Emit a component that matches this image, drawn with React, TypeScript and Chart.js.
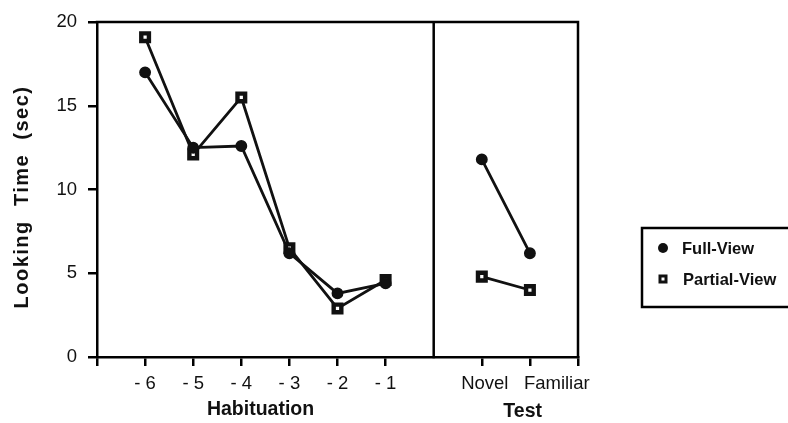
import { useEffect, useRef } from 'react';
import { Chart, registerables } from 'chart.js';
Chart.register(...registerables);

const habituationTrials = [-6, -5, -4, -3, -2, -1];
const habituationLabels = ['- 6', '- 5', '- 4', '- 3', '- 2', '- 1'];
const testPhases = ['Novel', 'Familiar'];
const testPositions = [1, 2];
const fullViewHabituation = [17.0, 12.5, 12.6, 6.2, 3.8, 4.4];
const partialViewHabituation = [19.1, 12.1, 15.5, 6.5, 2.9, 4.6];
const fullViewTest = [11.8, 6.2];
const partialViewTest = [4.8, 4.0];
const seriesNames = ['Full-View', 'Partial-View'];
const yTicks = [0, 5, 10, 15, 20];
const xTickValues = [-7, ...habituationTrials, ...testPositions, 3];
const axisTitles = ['Habituation', 'Test'];
const yTitle = 'Looking  Time  (sec)';

const FONT = '"Liberation Sans", Arial, Helvetica, sans-serif';
const INK = '#111';

function buildSeries(hab: number[], test: number[]) {
  return [
    ...habituationTrials.map((t, i) => ({ x: t, y: hab[i] })),
    { x: 0, y: null },
    ...testPositions.map((t, i) => ({ x: t, y: test[i] })),
  ];
}

const framePlugin = {
  id: 'frame',
  afterDraw(chart: any) {
    const { ctx, chartArea: a, scales } = chart;
    const x = scales.x;
    ctx.save();
    ctx.strokeStyle = '#000';
    ctx.lineWidth = 2.5;
    ctx.lineCap = 'square';
    ctx.beginPath();
    ctx.moveTo(a.left, a.top);
    ctx.lineTo(a.right, a.top);
    ctx.lineTo(a.right, a.bottom);
    const dx = x.getPixelForValue(0);
    ctx.moveTo(dx, a.top);
    ctx.lineTo(dx, a.bottom);
    ctx.stroke();

    // x tick labels
    ctx.fillStyle = INK;
    ctx.font = `18.5px ${FONT}`;
    ctx.textBaseline = 'middle';
    ctx.textAlign = 'center';
    habituationTrials.forEach((t, i) =>
      ctx.fillText(habituationLabels[i], x.getPixelForValue(t), a.bottom + 27)
    );
    ctx.fillText(testPhases[0], x.getPixelForValue(testPositions[0]) + 3, a.bottom + 27);
    ctx.textAlign = 'left';
    ctx.fillText(testPhases[1], x.getPixelForValue(testPositions[1]) - 6, a.bottom + 27);

    // axis titles
    ctx.font = `bold 19.5px ${FONT}`;
    ctx.textAlign = 'center';
    ctx.fillText(axisTitles[0], x.getPixelForValue(-3.6), a.bottom + 53);
    ctx.fillText(axisTitles[1], x.getPixelForValue(1.85), a.bottom + 55);

    ctx.save();
    ctx.font = `bold 20px ${FONT}`;
    ctx.translate(22, 197);
    ctx.rotate(-Math.PI / 2);
    (ctx as any).letterSpacing = '1.5px';
    ctx.fillText(yTitle, 0, 0);
    ctx.restore();

    // legend
    ctx.lineWidth = 2.5;
    ctx.strokeRect(642, 228, 170, 79);
    const ds = chart.data.datasets;
    ctx.font = `bold 16.5px ${FONT}`;
    ctx.textAlign = 'left';
    ctx.fillStyle = INK;
    ctx.beginPath();
    ctx.arc(663, 248, 5, 0, Math.PI * 2);
    ctx.fill();
    ctx.fillText(ds[0].label, 682, 249);
    ctx.fillRect(658.5, 274.5, 9, 9);
    ctx.fillStyle = '#fff';
    ctx.fillRect(661.5, 277.5, 3, 3);
    ctx.fillStyle = INK;
    ctx.fillText(ds[1].label, 683, 280);
    ctx.restore();
  },
};

export default function App() {
  const ref = useRef<HTMLCanvasElement | null>(null);
  useEffect(() => {
    document.body.style.margin = '0';
    const chart = new Chart(ref.current as HTMLCanvasElement, {
      type: 'line',
      data: {
        datasets: [
          {
            label: seriesNames[0],
            data: buildSeries(fullViewHabituation, fullViewTest) as any,
            borderColor: INK,
            borderWidth: 2.8,
            pointStyle: 'circle',
            pointRadius: 5.2,
            pointBorderWidth: 1.5,
            pointBackgroundColor: INK,
            pointBorderColor: INK,
            spanGaps: false,
            tension: 0,
          },
          {
            label: seriesNames[1],
            data: buildSeries(partialViewHabituation, partialViewTest) as any,
            borderColor: INK,
            borderWidth: 2.8,
            pointStyle: 'rect',
            pointRadius: 5.4,
            pointBorderWidth: 4.4,
            pointBackgroundColor: '#fff',
            pointBorderColor: INK,
            spanGaps: false,
            tension: 0,
          },
        ],
      },
      options: {
        animation: false,
        responsive: true,
        maintainAspectRatio: false,
        layout: { padding: { top: 16, right: 210, left: 0, bottom: 0 } },
        plugins: { legend: { display: false }, tooltip: { enabled: false } },
        scales: {
          x: {
            type: 'linear',
            min: -7,
            max: 3,
            afterBuildTicks: (s: any) => {
              s.ticks = xTickValues.map((v) => ({ value: v }));
            },
            ticks: { display: false },
            grid: { drawOnChartArea: false, drawTicks: true, tickLength: 9, color: '#000', lineWidth: 2.5 },
            border: { display: true, color: '#000', width: 2.5 },
            afterFit: (s: any) => {
              s.height = 66;
            },
          },
          y: {
            min: 0,
            max: 20,
            afterBuildTicks: (s: any) => {
              s.ticks = yTicks.map((v) => ({ value: v }));
            },
            ticks: { font: { size: 18.5, family: FONT }, color: INK, padding: 11 },
            grid: { drawOnChartArea: false, drawTicks: true, tickLength: 9, color: '#000', lineWidth: 2.5 },
            border: { display: true, color: '#000', width: 2.5 },
            afterFit: (s: any) => {
              s.width = 97;
            },
          },
        },
      },
      plugins: [framePlugin],
    });
    return () => chart.destroy();
  }, []);
  return (
    <div style={{ position: 'absolute', left: 0, top: 0, width: 788, height: 423 }}>
      <canvas ref={ref} />
    </div>
  );
}
